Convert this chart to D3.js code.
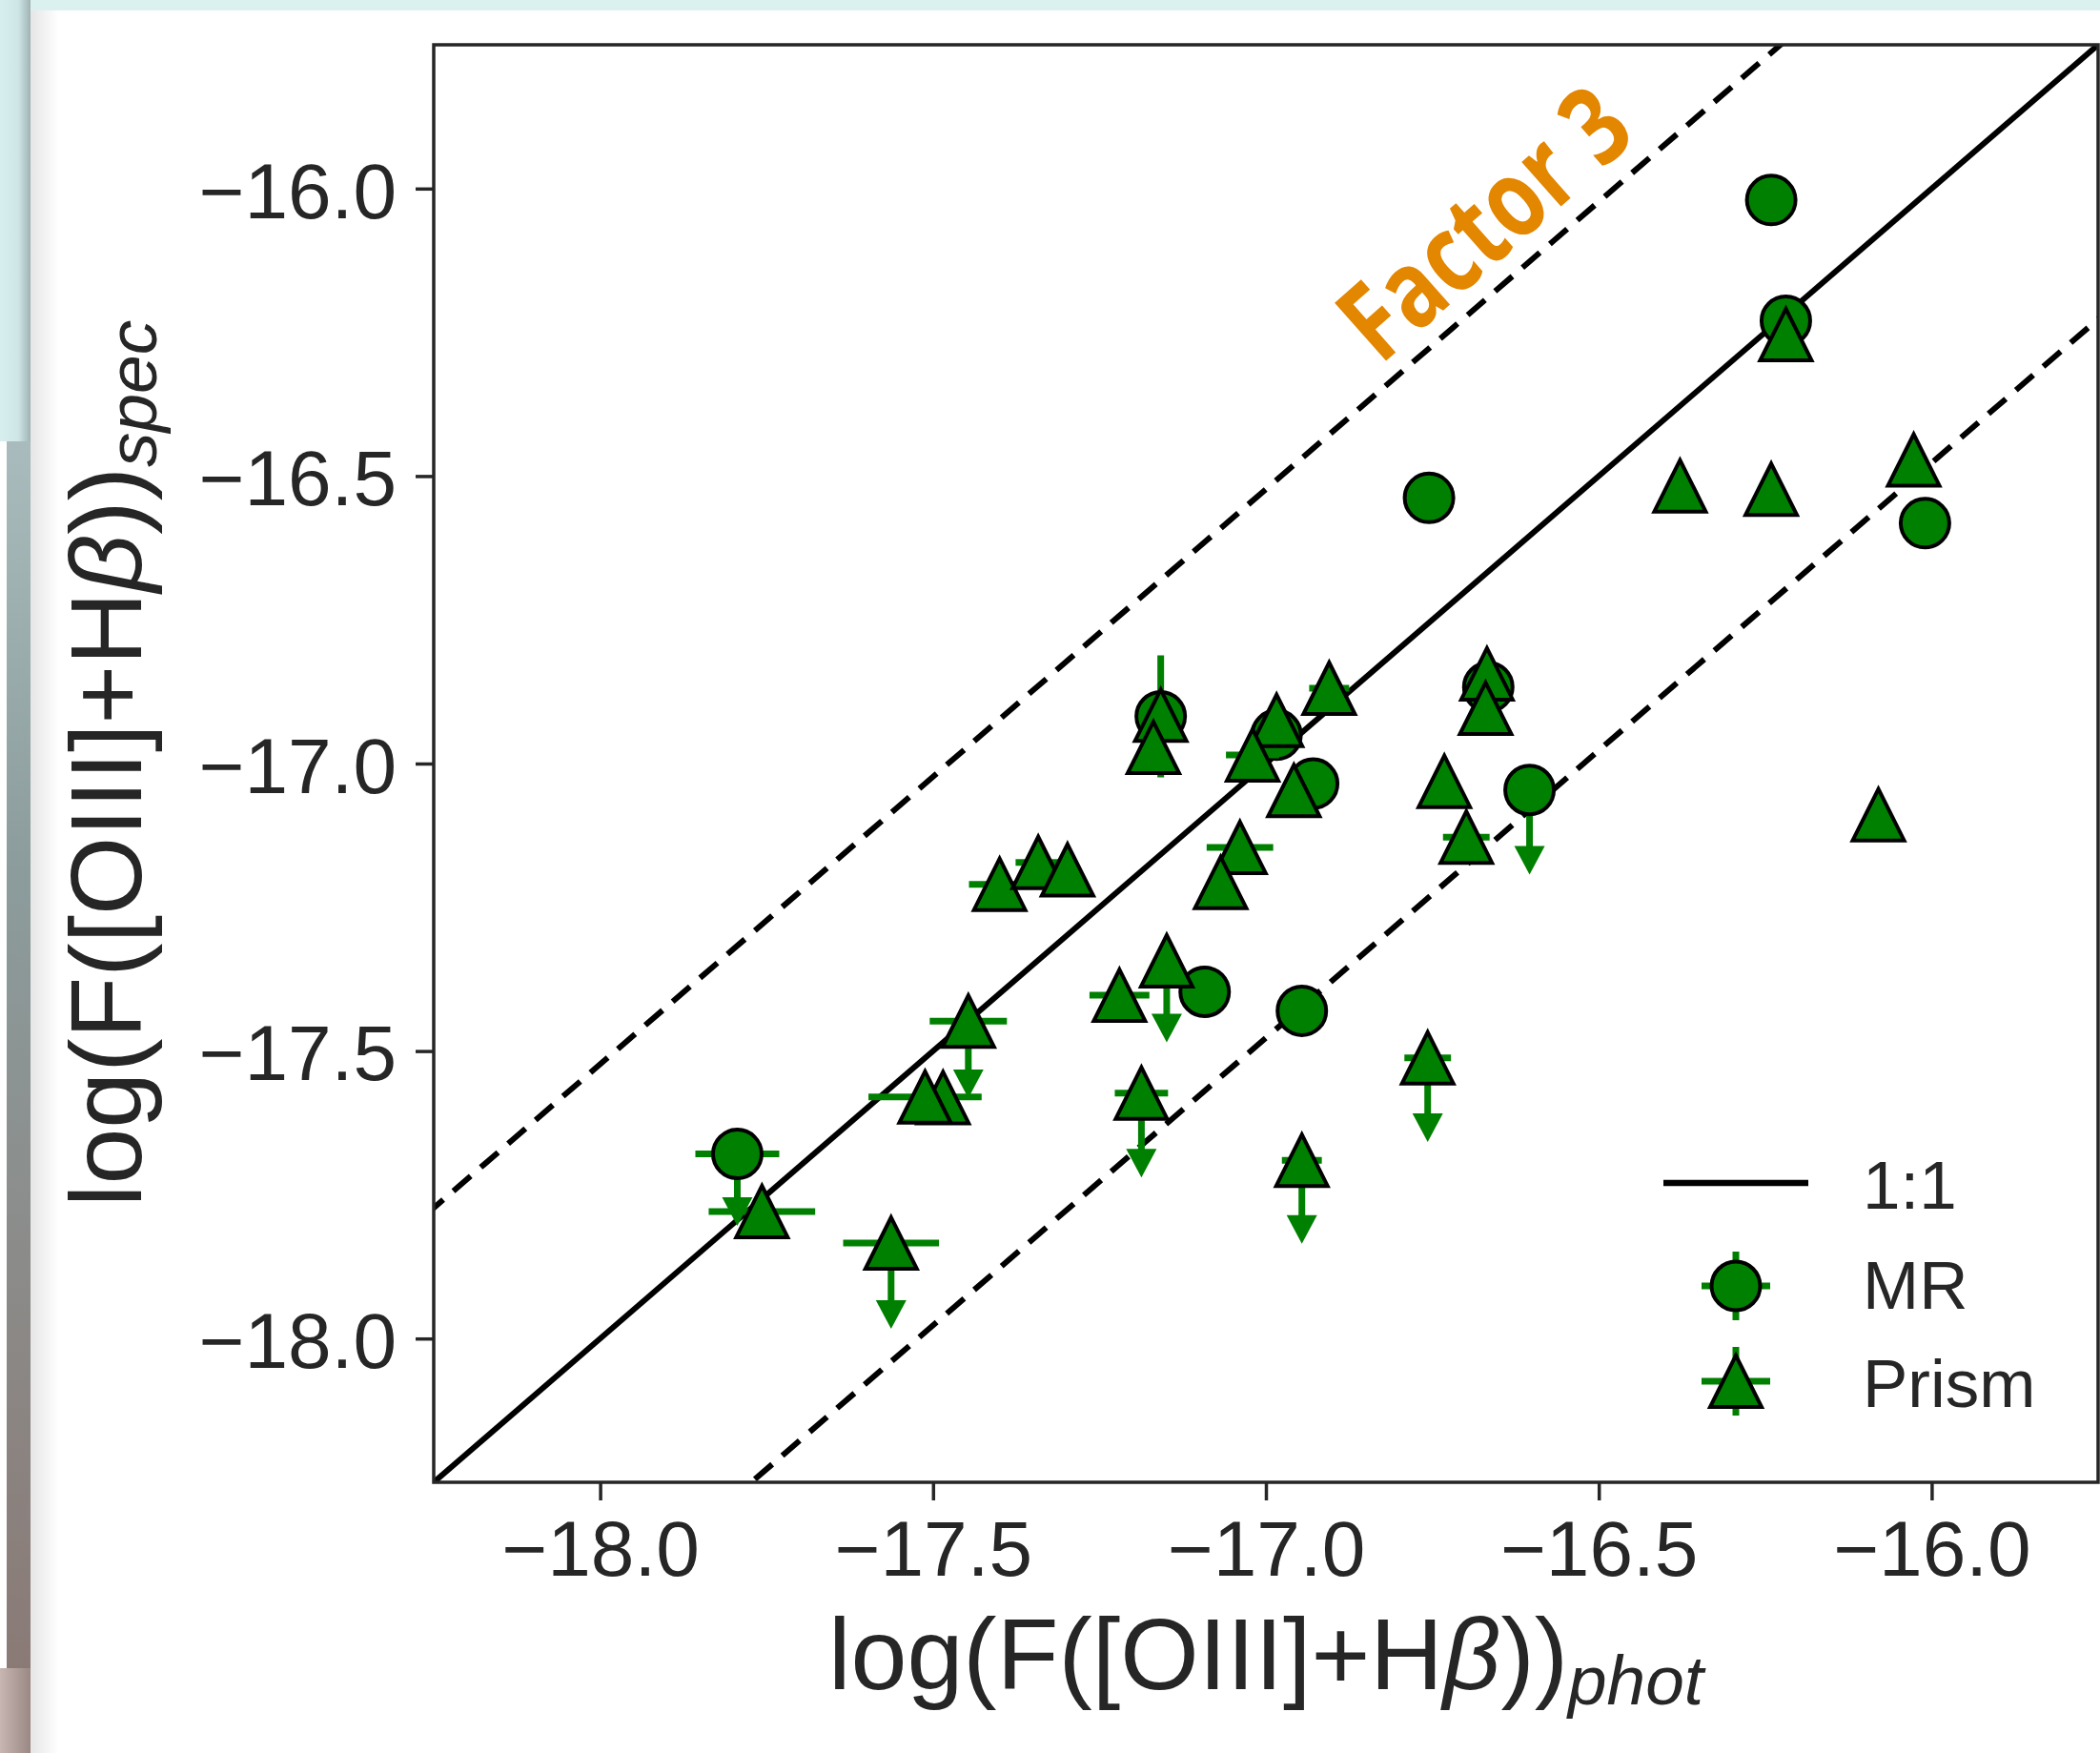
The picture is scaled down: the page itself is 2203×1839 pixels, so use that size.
<!DOCTYPE html>
<html><head><meta charset="utf-8">
<script src="https://cdn.jsdelivr.net/npm/d3@7"></script>
<style>body{margin:0;background:#fff;} svg{display:block;}</style>
</head><body><div id="chart"></div>
<script>
// ---------- data ----------
const xTicks = [-18.0, -17.5, -17.0, -16.5, -16.0];
const yTicks = [-18.0, -17.5, -17.0, -16.5, -16.0];
const axisDomain = [-18.25, -15.75];
const factor = 3;
const legendLabels = ["1:1", "MR", "Prism"];
const annotation = "Factor 3";

// MR (medium resolution) points
const mrX    = [-16.241, -16.219, -16.755, -16.010, -17.158, -16.984, -16.929, -16.666, -16.604, -17.092, -16.946, -17.794];
const mrY    = [-16.020, -16.230, -16.538, -16.582, -16.918, -16.950, -17.035, -16.867, -17.046, -17.397, -17.430, -17.679];
const mrXerr = [0, 0, 0, 0, 0, 0, 0, 0, 0, 0, 0, 0.063];
const mrYerr = [0, 0, 0, 0, 0.106, 0, 0, 0, 0, 0, 0, 0];
const mrUlim = [0, 0, 0, 0, 0, 0, 0, 0, 0.147, 0, 0, 0.125];

// Prism points
const prX    = [-16.219, -16.378, -16.241, -16.027, -17.158, -17.169, -16.984, -17.020, -16.958, -16.905,
                -16.668, -16.670, -16.732, -16.699, -16.080, -16.757, -16.946, -17.447, -17.485, -17.512,
                -17.757, -17.563, -17.220, -17.149, -17.187, -17.400, -17.342, -17.298, -17.039, -17.068];
const prY    = [-16.254, -16.517, -16.523, -16.472, -16.916, -16.972, -16.925, -16.985, -17.047, -16.869,
                -16.844, -16.904, -17.031, -17.128, -17.089, -17.512, -17.690, -17.448, -17.581, -17.580,
                -17.779, -17.834, -17.403, -17.343, -17.573, -17.210, -17.172, -17.185, -17.146, -17.207];
const prXerr = [0, 0, 0, 0, 0, 0, 0, 0.04, 0, 0.03,
                0, 0, 0, 0.035, 0, 0.035, 0.03, 0.058, 0, 0.085,
                0.08, 0.072, 0.045, 0, 0.04, 0.046, 0.034, 0, 0.05, 0];
const prYerr = new Array(30).fill(0);
const prUlim = [0, 0, 0, 0, 0, 0, 0, 0, 0, 0,
                0, 0, 0, 0, 0, 0.146, 0.145, 0.134, 0, 0,
                0, 0.149, 0, 0.142, 0.147, 0, 0, 0, 0, 0];

// ---------- layout ----------
const W = 2203, H = 1839;
const L = 455, R = 2201, T = 47, B = 1555;
const GREEN = "#008000", INK = "#262626";
const FONT = "'Liberation Sans', Arial, sans-serif";

const svg = d3.select("#chart").append("svg").attr("width", W).attr("height", H);
const defs = svg.append("defs");

// ---------- backdrop (slide look) ----------
svg.append("rect").attr("width", W).attr("height", H).attr("fill", "#fff");
const g1 = defs.append("linearGradient").attr("id", "lt").attr("x1", 0).attr("x2", 1).attr("y1", 0).attr("y2", 0);
g1.append("stop").attr("offset", 0).attr("stop-color", "#d8efef");
g1.append("stop").attr("offset", 0.6).attr("stop-color", "#cfe6e6");
g1.append("stop").attr("offset", 1).attr("stop-color", "#9fb3b3");
const g2 = defs.append("linearGradient").attr("id", "lm").attr("x1", 0).attr("x2", 0).attr("y1", 0).attr("y2", 1);
g2.append("stop").attr("offset", 0).attr("stop-color", "#a9bbbc");
g2.append("stop").attr("offset", 0.35).attr("stop-color", "#8c9c9c");
g2.append("stop").attr("offset", 1).attr("stop-color", "#8a7a76");
const g3 = defs.append("linearGradient").attr("id", "lb").attr("x1", 0).attr("x2", 1).attr("y1", 0).attr("y2", 0);
g3.append("stop").attr("offset", 0).attr("stop-color", "#c8b6b2");
g3.append("stop").attr("offset", 1).attr("stop-color", "#9a8884");
const g4 = defs.append("linearGradient").attr("id", "sh").attr("x1", 0).attr("x2", 1).attr("y1", 0).attr("y2", 0);
g4.append("stop").attr("offset", 0).attr("stop-color", "#000").attr("stop-opacity", 0.10);
g4.append("stop").attr("offset", 1).attr("stop-color", "#000").attr("stop-opacity", 0);

svg.append("rect").attr("x", 0).attr("y", 0).attr("width", W).attr("height", 11).attr("fill", "#dbf1f0");
svg.append("rect").attr("x", 0).attr("y", 0).attr("width", 32).attr("height", 463).attr("fill", "url(#lt)");
svg.append("rect").attr("x", 7).attr("y", 463).attr("width", 25).attr("height", 1290).attr("fill", "url(#lm)");
svg.append("rect").attr("x", 0).attr("y", 1750).attr("width", 32).attr("height", 89).attr("fill", "url(#lb)");
svg.append("rect").attr("x", 32).attr("y", 11).attr("width", 30).attr("height", H - 11).attr("fill", "url(#sh)");

// ---------- scales & axes ----------
const x = d3.scaleLinear().domain(axisDomain).range([L, R]);
const y = d3.scaleLinear().domain(axisDomain).range([B, T]);
const fmt = d3.format(".1f");

const xAxis = svg.append("g").attr("transform", `translate(0,${B})`)
  .call(d3.axisBottom(x).tickValues(xTicks).tickFormat(fmt).tickSize(19).tickPadding(21));
const yAxis = svg.append("g").attr("transform", `translate(${L},0)`)
  .call(d3.axisLeft(y).tickValues(yTicks).tickFormat(fmt).tickSize(19).tickPadding(20));
[xAxis, yAxis].forEach(a => {
  a.select(".domain").remove();
  a.selectAll(".tick line").attr("stroke", INK).attr("stroke-width", 3.5);
  a.selectAll(".tick text").attr("fill", INK).style("font-family", FONT).style("font-size", "82px");
});
yAxis.selectAll(".tick text").attr("dy", "0.37em");

// ---------- plot area ----------
defs.append("clipPath").attr("id", "clip").append("rect")
  .attr("x", L).attr("y", T).attr("width", R - L).attr("height", B - T);
const plot = svg.append("g").attr("clip-path", "url(#clip)");

const off = Math.log10(factor);
const lineData = [
  {o: 0, dash: null},
  {o: off, dash: "24,14"},
  {o: -off, dash: "24,14"}
];
lineData.forEach(d => {
  plot.append("line")
    .attr("x1", x(axisDomain[0] - 1)).attr("y1", y(axisDomain[0] - 1 + d.o))
    .attr("x2", x(axisDomain[1] + 1)).attr("y2", y(axisDomain[1] + 1 + d.o))
    .attr("stroke", "#000").attr("stroke-width", 6)
    .attr("stroke-dasharray", d.dash);
});

const headH = 30, headW = 16;
function drawSeries(xs, ys, xe, ye, ul, shape) {
  const errG = plot.append("g").attr("stroke", GREEN).attr("stroke-width", 7);
  xs.forEach((xv, i) => {
    const px = x(xv), py = y(ys[i]);
    if (xe[i] > 0) errG.append("line").attr("x1", x(xv - xe[i])).attr("x2", x(xv + xe[i])).attr("y1", py).attr("y2", py);
    if (ye[i] > 0) errG.append("line").attr("x1", px).attr("x2", px).attr("y1", y(ys[i] + ye[i])).attr("y2", y(ys[i] - ye[i]));
    if (ul[i] > 0) {
      const tip = y(ys[i] - ul[i]);
      errG.append("line").attr("x1", px).attr("x2", px).attr("y1", py).attr("y2", tip - headH + 2);
      plot.append("path")
        .attr("d", `M${px - headW},${tip - headH} L${px + headW},${tip - headH} L${px},${tip} Z`)
        .attr("fill", GREEN);
    }
  });
  const mG = plot.append("g");
  xs.forEach((xv, i) => drawMarker(mG, x(xv), y(ys[i]), shape));
}
function drawMarker(g, px, py, shape) {
  if (shape === "circle") {
    g.append("circle").attr("cx", px).attr("cy", py).attr("r", 25.5)
      .attr("fill", GREEN).attr("stroke", "#000").attr("stroke-width", 4);
  } else {
    const s = 27;
    g.append("path").attr("d", `M${px},${py - s} L${px + s},${py + s} L${px - s},${py + s} Z`)
      .attr("fill", GREEN).attr("stroke", "#000").attr("stroke-width", 4).attr("stroke-linejoin", "miter");
  }
}
drawSeries(mrX, mrY, mrXerr, mrYerr, mrUlim, "circle");
drawSeries(prX, prY, prXerr, prYerr, prUlim, "triangle");

// annotation
const ax = -16.634, ay = -16.110;
svg.append("text")
  .attr("transform", `translate(${x(ax)},${y(ay)}) rotate(-41.5)`)
  .attr("text-anchor", "middle")
  .attr("textLength", 362).attr("lengthAdjust", "spacingAndGlyphs")
  .style("font-family", "'Open Sans', sans-serif").style("font-weight", 700).style("font-size", "114px")
  .attr("fill", "#e38600").text(annotation);

// frame
svg.append("rect").attr("x", L).attr("y", T).attr("width", R - L).attr("height", B - T)
  .attr("fill", "none").attr("stroke", INK).attr("stroke-width", 3.5);

// ---------- axis labels ----------
const xl = svg.append("text").attr("x", (L + R) / 2).attr("y", 1772).attr("text-anchor", "middle")
  .attr("fill", INK).style("font-family", FONT).style("font-size", "106px");
xl.append("tspan").text("log(F([OIII]+H");
xl.append("tspan").style("font-style", "italic").text("β");
xl.append("tspan").text("))");
xl.append("tspan").attr("dy", 16).style("font-style", "italic").style("font-size", "73px").text("phot");

const yl = svg.append("text").attr("transform", `translate(148,${(T + B) / 2}) rotate(-90)`).attr("text-anchor", "middle")
  .attr("fill", INK).style("font-family", FONT).style("font-size", "106px");
yl.append("tspan").text("log(F([OIII]+H");
yl.append("tspan").style("font-style", "italic").text("β");
yl.append("tspan").text("))");
yl.append("tspan").attr("dy", 16).style("font-style", "italic").style("font-size", "73px").text("spec");

// ---------- legend ----------
const lg = svg.append("g");
const lx = 1821, rows = [1241, 1349, 1449];
lg.append("line").attr("x1", 1745).attr("x2", 1897).attr("y1", rows[0]).attr("y2", rows[0])
  .attr("stroke", "#000").attr("stroke-width", 6.5);
[1, 2].forEach(k => {
  lg.append("line").attr("x1", lx - 36).attr("x2", lx + 36).attr("y1", rows[k]).attr("y2", rows[k]).attr("stroke", GREEN).attr("stroke-width", 7);
  lg.append("line").attr("x1", lx).attr("x2", lx).attr("y1", rows[k] - 36).attr("y2", rows[k] + 36).attr("stroke", GREEN).attr("stroke-width", 7);
  drawMarker(lg, lx, rows[k], k === 1 ? "circle" : "triangle");
});
const baselines = [1268, 1373, 1476];
legendLabels.forEach((t, k) => {
  lg.append("text").attr("x", 1954).attr("y", baselines[k]).attr("fill", INK)
    .style("font-family", FONT).style("font-size", "71px").text(t);
});
</script>
</body></html>
